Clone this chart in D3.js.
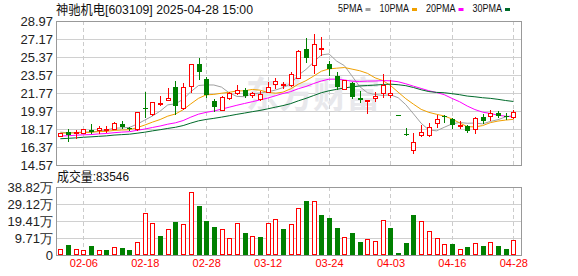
<!DOCTYPE html>
<html>
<head>
<meta charset="utf-8">
<script src="https://cdn.jsdelivr.net/npm/d3@7"></script>
<style>
  body { margin: 0; background: #fff; }
  svg { display: block; font-family: "Liberation Sans", "Noto Sans CJK SC", sans-serif; }
</style>
</head>
<body>
<svg class="chart"></svg>
<script>
const stockName = '神驰机电[603109] 2025-04-28 15:00';

const dates = ['01-24','01-27','02-05','02-06','02-07','02-10','02-11','02-12','02-13','02-14',
  '02-17','02-18','02-19','02-20','02-21','02-24','02-25','02-26','02-27','02-28',
  '03-03','03-04','03-05','03-06','03-07','03-10','03-11','03-12','03-13','03-14',
  '03-17','03-18','03-19','03-20','03-21','03-24','03-25','03-26','03-27','03-28',
  '03-31','04-01','04-02','04-03','04-07','04-08','04-09','04-10','04-11','04-14',
  '04-15','04-16','04-17','04-18','04-21','04-22','04-23','04-24','04-25','04-28'];

const open = [17.52,17.84,17.80,17.82,18.04,18.10,18.07,18.20,18.67,18.25,
  18.12,20.30,19.67,20.64,21.07,22.37,20.24,22.47,24.64,23.14,
  21.00,20.07,21.25,21.74,22.10,21.54,21.20,21.90,22.70,22.57,
  22.57,23.30,26.14,24.57,26.14,24.64,23.47,22.17,22.74,21.24,
  20.97,21.30,21.74,21.60,19.58,17.65,16.07,17.54,17.57,18.80,
  19.42,19.14,18.50,18.47,18.14,19.34,19.47,19.74,19.45,19.34];

const high = [17.80,18.12,18.10,18.16,18.67,18.50,18.45,18.85,18.97,18.35,
  19.90,21.85,20.90,21.47,22.30,22.94,22.74,24.70,25.27,23.34,
  21.14,21.50,21.90,22.55,22.30,21.90,21.95,22.84,23.30,22.90,
  23.90,26.05,27.30,27.67,27.40,24.97,23.90,23.07,22.90,21.97,
  21.12,21.90,23.64,23.07,19.58,18.24,17.74,18.57,18.80,19.57,
  19.57,19.24,18.97,18.60,19.40,19.64,20.07,19.97,19.74,20.07];

const low = [17.50,16.98,17.25,17.80,17.80,17.78,17.90,18.15,18.25,18.07,
  18.07,19.35,19.60,20.57,21.05,19.67,20.20,21.84,23.14,21.40,
  20.00,20.05,21.20,21.70,21.35,21.34,21.10,21.85,22.25,22.25,
  22.50,23.25,24.84,23.80,25.57,23.57,22.17,22.15,21.30,20.90,
  19.80,21.00,21.40,21.35,19.58,17.62,15.80,17.50,17.47,18.40,
  18.90,18.30,18.24,17.87,17.80,18.80,19.07,19.34,19.20,19.30];

const close = [17.76,17.60,17.90,18.14,17.88,18.28,18.14,18.78,18.32,18.12,
  19.90,20.17,20.84,20.74,21.27,20.44,22.40,24.64,23.84,21.57,
  20.40,21.34,21.76,22.07,21.45,21.78,21.70,22.40,22.97,22.70,
  23.67,26.00,25.30,26.64,26.30,24.14,22.40,23.04,21.40,21.05,
  21.10,21.50,22.57,21.75,19.58,17.62,16.90,17.87,18.40,19.14,
  19.38,18.58,18.62,18.00,19.24,18.97,19.80,19.50,19.40,19.84];

// volume in 万手
const volume = [3.6,5.5,3.6,3.0,4.9,3.0,2.7,4.8,3.8,2.7,
  7.6,24.2,18.5,10.7,15.0,18.6,17.9,36.2,27.8,19.2,
  15.8,15.0,9.9,18.5,12.4,11.0,10.1,18.5,20.7,14.7,
  17.9,27.0,30.6,31.0,22.6,20.9,15.2,10.5,12.4,7.2,
  9.3,8.2,20.2,15.2,1.0,6.7,22.6,19.6,13.9,9.9,
  6.5,6.1,3.6,4.4,7.0,4.9,7.6,4.9,3.2,8.3546];

// closes before the first visible day, estimated so the averages start where the picture does
const priorClose = [16.4,16.5,16.3,16.6,16.8,16.7,16.5,16.9,16.8,17.0,
  17.1,16.9,17.2,17.4,17.0,17.3,17.2,17.1,17.3,17.2,
  17.6,17.7,17.8,17.6,17.7,17.9,17.8,17.9,17.9];

const maDays = [5, 10, 20, 30];
const priceTicks = [14.57,16.37,18.17,19.97,21.77,23.57,25.37,27.17,28.97];
const volTicks = [0, 9.71, 19.41, 29.12, 38.82];
const volTickLabels = ['0','9.71万','19.41万','29.12万','38.82万'];
const dateTicks = ['02-06','02-18','02-28','03-12','03-24','04-03','04-16','04-28'];

const maColors = ['#a0a0a0', '#f0a000', '#ff00ff', '#006a2a'];
const red = '#ff0000', green = '#008000';

const width = 578, height = 276;
const left = 56, right = 522;
const mainTop = 21, mainBottom = 165, volTop = 187, volBottom = 255;
const crisp = v => Math.round(v) + 0.5;

const svg = d3.select('.chart').attr('width', width).attr('height', height);

const x = d3.scalePoint().domain(dates).range([60.3, 513.3]);
const y = d3.scaleLinear().domain([priceTicks[0], priceTicks[priceTicks.length - 1]]).range([mainBottom, mainTop]);
const yv = d3.scaleLinear().domain([0, volTicks[volTicks.length - 1]]).range([volBottom, volTop]);

// grid
const grid = svg.append('g');
priceTicks.forEach(t => {
  grid.append('line').attr('x1', left).attr('x2', right)
    .attr('y1', crisp(y(t))).attr('y2', crisp(y(t))).attr('stroke', '#d0d0d0');
});
volTicks.forEach(t => {
  grid.append('line').attr('x1', left).attr('x2', right)
    .attr('y1', crisp(yv(t))).attr('y2', crisp(yv(t))).attr('stroke', '#d0d0d0');
});
dateTicks.forEach(d => {
  [[mainTop, mainBottom], [volTop, volBottom]].forEach(([a, b]) => {
    grid.append('line').attr('x1', crisp(x(d))).attr('x2', crisp(x(d)))
      .attr('y1', a).attr('y2', b).attr('stroke', '#cccccc').attr('stroke-dasharray', '4,3');
  });
});

// watermark
svg.append('text')
  .attr('x', 246).attr('y', 108)
  .attr('textLength', 134).attr('lengthAdjust', 'spacingAndGlyphs')
  .style('font-family', '"Noto Sans CJK SC"').style('font-size', '36px').style('font-weight', 'bold')
  .attr('fill', '#e8e8ec')
  .text('东方财富');

// moving averages
const allClose = priorClose.concat(close);
const off = priorClose.length;
const line = d3.line().x(d => x(d.date)).y(d => y(d.v));
maDays.forEach((n, k) => {
  const pts = dates.map((d, i) => ({date: d, v: d3.mean(allClose.slice(off + i - n + 1, off + i + 1))}));
  svg.append('path').attr('d', line(pts)).attr('fill', 'none')
    .attr('stroke', maColors[k]).attr('stroke-width', 1);
});

// candles
const candleColor = i => {
  if (close[i] > open[i]) return red;
  if (close[i] < open[i]) return green;
  return (i > 0 && close[i] < close[i - 1]) ? green : red;
};
const volColor = i => {
  if (i === 0) return close[0] >= open[0] ? red : green;
  return close[i] >= close[i - 1] ? red : green;
};

const candles = svg.append('g');
dates.forEach((d, i) => {
  const cx = crisp(x(d));
  const c = candleColor(i);
  candles.append('line').attr('x1', cx).attr('x2', cx)
    .attr('y1', Math.round(y(high[i]))).attr('y2', Math.round(y(low[i])) + 1)
    .attr('stroke', c);
  const top = Math.round(y(Math.max(open[i], close[i])));
  const bot = Math.round(y(Math.min(open[i], close[i])));
  if (c === red) {
    candles.append('rect').attr('x', cx - 2).attr('y', top + 0.5)
      .attr('width', 4).attr('height', Math.max(bot - top, 0))
      .attr('fill', '#fff').attr('stroke', red);
  } else {
    candles.append('rect').attr('x', cx - 2.5).attr('y', top)
      .attr('width', 5).attr('height', Math.max(bot - top, 1))
      .attr('fill', green);
  }
});

// volume bars
const vol = svg.append('g');
dates.forEach((d, i) => {
  const cx = crisp(x(d));
  const c = volColor(i);
  const top = Math.round(yv(volume[i]));
  if (c === red) {
    vol.append('rect').attr('x', cx - 2).attr('y', top + 0.5)
      .attr('width', 4).attr('height', volBottom - top - 1)
      .attr('fill', '#fff').attr('stroke', red);
  } else {
    vol.append('rect').attr('x', cx - 2.5).attr('y', top)
      .attr('width', 5).attr('height', volBottom - top)
      .attr('fill', green);
  }
});

// frames
[[mainTop, mainBottom], [volTop, volBottom]].forEach(([a, b]) => {
  svg.append('rect').attr('x', left + 0.5).attr('y', a + 0.5)
    .attr('width', right - left - 1).attr('height', b - a)
    .attr('fill', 'none').attr('stroke', '#999');
});

// axes
const yAxis = d3.axisLeft(y).tickValues(priceTicks).tickSize(0).tickPadding(3).tickFormat(d3.format('.2f'));
svg.append('g').attr('transform', `translate(${left},0)`).call(yAxis)
  .call(g => g.select('.domain').remove())
  .selectAll('text').style('font-size', '13px').attr('fill', '#222');

const vAxis = d3.axisLeft(yv).tickValues(volTicks).tickSize(0).tickPadding(3)
  .tickFormat((d, i) => volTickLabels[i]);
svg.append('g').attr('transform', `translate(${left},0)`).call(vAxis)
  .call(g => g.select('.domain').remove())
  .selectAll('text').style('font-size', '13px').attr('fill', '#222');

const xAxis = d3.axisBottom(x).tickValues(dateTicks).tickSize(0).tickPadding(4);
svg.append('g').attr('transform', `translate(0,${volBottom})`).call(xAxis)
  .call(g => g.select('.domain').remove())
  .selectAll('text').style('font-size', '11px').attr('fill', red);

// titles
svg.append('text').attr('x', 56).attr('y', 14)
  .attr('textLength', 197).attr('lengthAdjust', 'spacingAndGlyphs')
  .style('font-size', '13px').attr('fill', '#111').text(stockName);

svg.append('text').attr('x', 57).attr('y', 181)
  .attr('textLength', 72).attr('lengthAdjust', 'spacingAndGlyphs')
  .style('font-size', '13px').attr('fill', '#111')
  .text('成交量:' + Math.round(volume[volume.length - 1] * 10000));

// legend
const legend = svg.append('g');
let lx = 338;
maDays.forEach((n, k) => {
  const label = n + 'PMA';
  const w = label.length === 4 ? 24.5 : 29.5;
  legend.append('text').attr('x', lx).attr('y', 12)
    .attr('textLength', w).attr('lengthAdjust', 'spacingAndGlyphs')
    .style('font-size', '11px').attr('fill', '#111').text(label);
  legend.append('rect').attr('x', lx + w + 3).attr('y', 8)
    .attr('width', 5).attr('height', 3).attr('fill', maColors[k]);
  lx += w + 17;
});
</script>
</body>
</html>
